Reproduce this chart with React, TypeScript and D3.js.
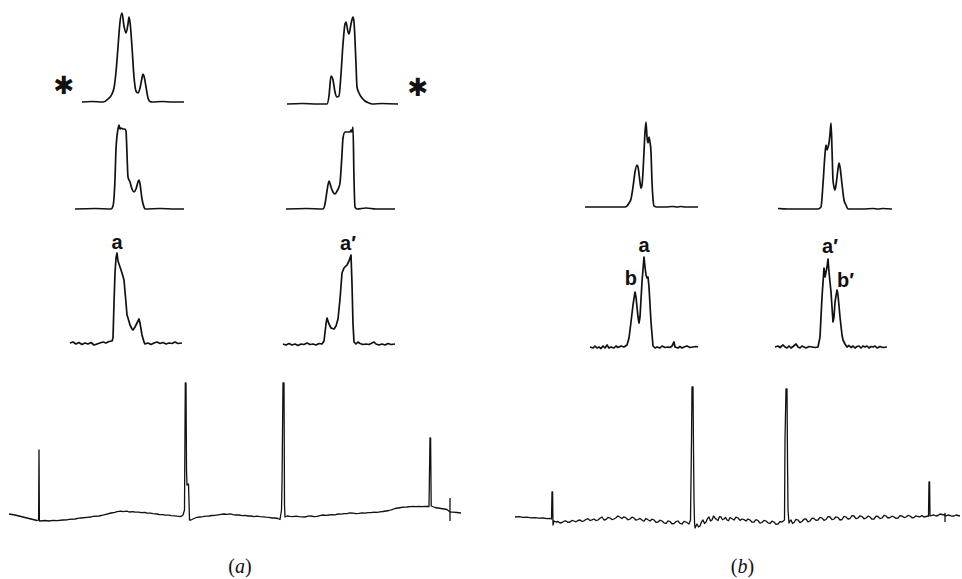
import React, { useEffect, useRef } from "react";
import * as d3 from "d3";

type Pt = [number, number];

// small spectra: [frequency offset, intensity]
// (a) top row, the two asterisked traces
const specA1: Pt[] = [
  [0, 0], [10, 0.5], [21, 0], [26, 3], [30, 8], [32, 14], [34, 30], [36, 55], [38, 80],
  [40, 89], [42, 76], [44, 69], [46, 78], [47, 85], [48, 80], [50, 55], [52, 25], [54, 11],
  [56, 9], [58, 14], [60, 24], [61, 28], [62, 26], [64, 15], [66, 4], [68, 0.5], [70, 0],
  [80, 0.5], [90, 0], [102, 0],
];
const specA1r: Pt[] = [
  [0, 0], [15, 0.5], [30, 0], [40, 0], [42, 8], [44, 28], [46, 24], [48, 12], [50, 7],
  [52, 8], [54, 30], [56, 60], [58, 80], [59, 82], [61, 72], [62, 70], [64, 80], [66, 87],
  [67, 82], [69, 40], [70, 17], [72, 11], [75, 6], [78, 3], [82, 1], [85, 0], [95, 0.5], [111, 0],
];
// (a) middle row
const specA2: Pt[] = [
  [0, 0], [20, 0.5], [36, 0], [38, 3], [40, 30], [41, 60], [43, 80], [44, 84], [45, 80],
  [46, 81], [48, 80], [50, 80], [51, 78], [52, 55], [53, 32], [55, 27], [57, 20], [59, 17],
  [61, 20], [63, 27], [64, 29], [65, 25], [67, 10], [69, 2], [70, 0], [85, 0.5], [100, 0], [109, 0],
];
const specA2r: Pt[] = [
  [0, 0], [20, 0.5], [37, 0], [39, 5], [41, 18], [43, 28], [45, 22], [47, 17], [49, 15],
  [51, 18], [53, 22], [54, 26], [56, 55], [57, 71], [59, 77], [62, 77], [64, 77], [65, 79],
  [66, 77], [67, 82], [68, 30], [69, 2], [71, 0], [80, 1], [90, 0], [109, 0],
];
// (a) lower row
const specA3: Pt[] = [
  [0, 0], [3, 1], [6, -1], [9, 0.5], [12, -1.5], [15, 0], [18, -1], [21, 0.5], [24, -2],
  [27, -1], [30, 0], [33, 1], [36, 0], [39, 1.5], [42, 2], [43, 5], [44, 40], [45, 70],
  [46, 85], [47, 90], [48, 82], [50, 76], [52, 70], [54, 63], [56, 40], [57, 28], [58, 25],
  [60, 18], [62, 14], [63, 13], [65, 16], [67, 20], [69, 24], [70, 20], [72, 8], [74, 1],
  [75, -1], [78, 0], [81, -1.5], [84, 0], [87, 1], [90, -0.5], [93, 0.5], [96, -1], [99, 0],
  [102, -0.5], [105, 1], [108, -0.5], [112, 0],
];
const specA3r: Pt[] = [
  [0, 0], [3, -1], [6, 0.5], [9, -1], [12, 0], [15, -1.5], [18, 0], [21, -0.5], [24, 1],
  [27, -0.5], [30, 0], [33, -1], [36, 0.5], [39, 0], [41, 3], [43, 20], [44, 26], [46, 20],
  [48, 16], [51, 15], [53, 18], [55, 25], [57, 45], [59, 71], [61, 76], [64, 79], [66, 83],
  [68, 89], [69, 60], [70, 20], [71, 2], [73, 0], [75, 2], [77, 0.5], [80, -0.5], [83, 0],
  [86, -0.5], [89, 1], [91, 2], [93, 0], [96, -1], [99, 0], [102, -1], [105, 0.5], [108, -0.5], [112, 0],
];
// (b) middle row
const specB2: Pt[] = [
  [0, 0], [20, 0], [40, 0], [42, 1], [44, 4], [46, 8], [48, 20], [50, 35], [52, 42], [53, 40],
  [55, 25], [56, 19], [57, 22], [59, 55], [60, 75], [61, 85], [62, 70], [63, 64], [64, 70],
  [65, 65], [66, 55], [67, 25], [68, 8], [69, 1], [72, 0], [80, 0], [88, 0.5], [92, 0],
  [96, 0.5], [100, 0], [113, 0],
];
const specB2r: Pt[] = [
  [0, 0.5], [10, 0], [20, 0], [40, 0], [43, 2], [45, 25], [47, 55], [48, 64], [49, 59],
  [50, 62], [51, 66], [52, 75], [53, 86], [54, 60], [55, 29], [56, 22], [57, 19], [58, 24],
  [60, 40], [61, 46], [62, 42], [64, 25], [66, 9], [68, 4], [70, 0], [85, 0], [95, 0.5],
  [100, 0], [105, 0.5], [114, 0],
];
// (b) lower row
const specB3: Pt[] = [
  [0, 0], [3, -1], [5, 1], [7, -1], [9, 0], [11, -1.5], [13, 1], [15, -1], [17, 2], [19, -1],
  [21, 0], [24, -1], [26, 1], [28, -0.5], [31, 1], [34, 0], [37, 2], [39, 9], [41, 25],
  [43, 42], [45, 55], [46, 50], [48, 30], [49, 24], [50, 30], [52, 65], [54, 90], [55, 80],
  [56, 72], [57, 69], [58, 70], [59, 60], [61, 25], [63, 1], [65, -1], [67, 0], [70, -1],
  [72, 1], [75, -0.5], [78, 0], [80, -0.5], [82, 1], [84, 5], [85, 0], [88, -1], [90, 0.5],
  [92, -1], [94, 0], [97, 1], [100, -0.5], [103, 0], [106, 0.5], [108, 0],
];
const specB3r: Pt[] = [
  [0, 0], [3, 1], [5, -0.5], [8, 2], [10, 0], [12, -1], [14, 1], [16, -1], [18, 0.5], [21, 3],
  [23, 0], [25, -1], [27, 1], [29, 0], [31, -1], [34, 0.5], [37, 0], [40, -0.5], [43, 0],
  [45, 10], [47, 50], [49, 79], [50, 70], [51, 75], [52, 80], [53, 88], [54, 75], [56, 55],
  [57, 40], [58, 25], [59, 30], [60, 45], [62, 57], [63, 52], [65, 30], [67, 12], [68, 7],
  [70, 3], [72, 0], [74, 1.5], [76, -0.5], [78, 1], [80, -1], [82, 0.5], [84, 1], [86, -1],
  [88, 1], [90, 0], [92, 1], [94, -1], [96, 0.5], [98, 0], [100, 1], [102, -1], [105, 0.5],
  [108, -0.5], [112, 0],
];

// full spectra at the bottom
const fullA: Pt[] = [
  [0, 7], [6, 6], [12, 4.5], [18, 3], [24, 1.5], [28, 0.5], [29.6, 1], [30, 71], [30.4, 0],
  [36, 0.5], [40, 0], [44, 0.6], [48, 0.3], [54, 1], [58, 1.2], [60, 1.7], [66, 2], [70, 2.8],
  [72, 3], [78, 3.6], [82, 4], [84, 4.6], [90, 5], [94, 5.8], [96, 6.4], [102, 8], [106, 8.6],
  [108, 9.4], [112, 9.8], [114, 9.4], [118, 9.8], [120, 9], [124, 9.4], [126, 8.8], [130, 8.8],
  [132, 8.4], [136, 8.6], [138, 7.8], [142, 7.9], [144, 7.4], [148, 7], [150, 6.5], [154, 6.4],
  [156, 5.8], [160, 5.8], [162, 5.4], [166, 5.2], [168, 4.8], [172, 4.5], [174, 6], [175.5, 11],
  [176.3, 138], [177, 138], [177.5, 51], [178, 36], [179.5, 37], [180.5, 1], [182, 1], [186, 3],
  [188, 3.6], [191, 4], [194, 4.3], [197, 4.8], [200, 5], [203, 5.5], [206, 5.6], [209, 6.2],
  [212, 6.6], [215, 7], [218, 6.6], [221, 7.1], [224, 6.4], [227, 6], [230, 6], [233, 5.4],
  [236, 5.6], [239, 5], [242, 5], [245, 4.4], [248, 4.8], [251, 4.4], [254, 4.2], [257, 3.8],
  [260, 3.6], [263, 3], [266, 3], [269, 2.5], [271, 1.5], [272.5, 11], [273, 36], [274, 138],
  [275, 138], [275.5, 16], [276, 4], [278, 5], [281, 4.6], [284, 4.4], [287, 4.8], [290, 4.4],
  [293, 4.2], [296, 4], [299, 4.8], [302, 5], [305, 4.4], [308, 4.6], [311, 5.4], [314, 6],
  [317, 5.6], [320, 6], [323, 6.4], [326, 6.2], [329, 7], [332, 6.8], [335, 7.4], [338, 7.4],
  [341, 8.2], [344, 7.8], [347, 7.4], [350, 7.6], [353, 8.2], [356, 7.8], [359, 8.4], [362, 8.4],
  [365, 8.8], [368, 8.6], [371, 9.2], [374, 9.5], [377, 10], [380, 10.5], [383, 11.4], [386, 12.5],
  [389, 13], [392, 13.5], [395, 13.8], [398, 14], [401, 14.4], [404, 14.5], [407, 14.4], [410, 14.6],
  [413, 14.4], [416, 14.5], [420, 14.5], [421, 83], [421.6, 83], [422.2, 15], [426, 13.5],
  [429, 13], [432, 12.5], [435, 12], [438, 11.5], [441, 9], [444, 8.8], [448, 8.5], [452, 8],
];
const fullB: Pt[] = [
  [0, 8], [4, 8.4], [8, 7.6], [12, 7.8], [16, 7.2], [20, 7.4], [24, 6.8], [28, 7], [32, 6.4],
  [35, 6.5], [36.5, 6], [37, 33], [37.6, 33], [38, 0], [39, 4], [41, 3], [43, 3.5], [45, 2],
  [47, 2.5], [49, 3.8], [51, 4], [53, 2.6], [55, 3], [57, 4.6], [59, 4], [61, 3.2], [63, 4.5],
  [65, 5], [67, 3.5], [69, 4.2], [71, 5.5], [73, 6.4], [75, 4.5], [77, 5.2], [79, 6], [81, 4.4],
  [83, 5], [85, 6.8], [87, 8], [89, 5], [91, 5.5], [93, 7.6], [95, 7], [97, 5.4], [99, 6],
  [101, 7.2], [103, 9], [105, 7.8], [107, 6.5], [109, 8.2], [111, 7], [113, 5.2], [115, 6],
  [117, 7.8], [119, 7], [121, 4.8], [123, 5.5], [125, 6.6], [127, 5], [129, 3.8], [131, 6.5],
  [133, 5.2], [135, 4], [137, 5.8], [139, 5], [141, 2.6], [143, 3], [145, 4.8], [147, 4],
  [149, 2.2], [151, 1.5], [153, 4.2], [155, 3.5], [157, 1.2], [159, 1.5], [161, 3.4], [163, 4],
  [165, 1.6], [167, 1], [169, 3.6], [171, 3], [174, 1], [175.5, 5], [176.5, 85], [177, 138],
  [178, 138], [178.5, 75], [179, 25], [179.5, 3], [180, -3], [182, 1], [183.5, -2], [185, -1],
  [186.5, 3], [188, 5], [189.5, 1.5], [191, 3], [192.5, 6.5], [194, 8], [195.5, 4], [197, 5],
  [198.5, 9], [200, 7], [201.5, 5.5], [203, 4.5], [204.5, 8.4], [206, 8], [207.5, 5.2],
  [209, 6], [210.5, 7.6], [212, 5], [213.5, 4.2], [215, 7.5], [217, 6.2], [219, 5], [221, 7.8],
  [223, 7], [225, 4.6], [227, 6], [229, 5.4], [231, 4], [233, 6], [235, 5], [237, 2.8], [239, 3],
  [241, 5.4], [243, 4.5], [245, 1.8], [247, 2.5], [249, 4.6], [251, 4], [253, 2.2], [255, 1.5],
  [257, 3.8], [259, 3], [261, 0.6], [263, 1], [265, 3.4], [267, 3], [269.5, 5], [270, 85],
  [271, 136], [272, 136], [272.5, 65], [273, 15], [274, 2], [275, 4], [276, 5], [277.5, 1.5],
  [279, 2.5], [281, 5.6], [283, 5], [285, 2.4], [287, 3.5], [289, 5.8], [291, 6], [293, 3.2],
  [295, 4], [297, 6.8], [299, 6.5], [301, 4.6], [303, 5], [305, 7.6], [307, 7], [309, 4.6],
  [311, 5.5], [313, 8.4], [315, 8], [317, 5.4], [319, 6], [321, 8.2], [323, 7.5], [325, 5],
  [327, 5.5], [329, 8.6], [331, 8], [333, 6], [335, 6.5], [337, 9.4], [339, 9], [341, 6.4],
  [343, 7], [345, 9.2], [347, 8.5], [349, 6.2], [351, 7], [353, 8.8], [355, 8], [357, 5.8],
  [359, 6], [361, 8.8], [363, 8.5], [365, 6.4], [367, 7], [369, 9.6], [371, 9], [373, 7],
  [375, 7.5], [377, 8.8], [379, 8], [381, 6.6], [383, 7], [385, 9.4], [387, 9], [389, 7.4],
  [391, 8], [393, 9.6], [395, 9], [397, 7.2], [399, 7.5], [401, 9.2], [403, 8.5], [405, 8.2],
  [407, 9.5], [409, 8], [411, 8.5], [413.5, 9], [414, 43], [414.6, 43], [415, 9], [417, 9.6],
  [419, 10], [421, 9], [423, 9.5], [425, 11], [427, 10.5], [430, 10], [431, 9], [433, 10],
  [435, 9.5], [437, 8.8], [439, 9], [441, 10], [443, 9.5], [445, 9],
];
// reference marks on the full spectra: [position, top, bottom]
const markA: [number, number, number][] = [[441, 23, 0]];
const markB: [number, number, number][] = [[430, 12, 3]];

const peakLabels = [
  { panel: 4, text: "a", x: 47 },
  { panel: 5, text: "a\u2032", x: 68 },
  { panel: 10, text: "a", x: 54 },
  { panel: 10, text: "b", x: 45 },
  { panel: 11, text: "a\u2032", x: 53 },
  { panel: 11, text: "b\u2032", x: 62 },
];
const captions = ["a", "b"];

// layout of each trace on the page
const layout = [
  { data: specA1, x0: 82, base: 102, w: 102, smooth: true },
  { data: specA1r, x0: 287, base: 104, w: 111, smooth: true },
  { data: specA2, x0: 75, base: 209, w: 109, smooth: true },
  { data: specA2r, x0: 286, base: 209, w: 109, smooth: true },
  { data: specA3, x0: 70, base: 343, w: 112, smooth: false },
  { data: specA3r, x0: 283, base: 344, w: 112, smooth: false },
  { data: specB2, x0: 585, base: 207, w: 113, smooth: true },
  { data: specB2r, x0: 778, base: 209, w: 114, smooth: true },
  { data: fullA, x0: 9, base: 521, w: 452, smooth: false },
  { data: fullB, x0: 515, base: 525, w: 445, smooth: false },
  { data: specB3, x0: 590, base: 347, w: 108, smooth: false },
  { data: specB3r, x0: 775, base: 347, w: 112, smooth: false },
];
const labelStyle: Record<string, { dx: number; dy: number; anchor: string }> = {
  "4a": { dx: 0, dy: -4, anchor: "middle" },
  "5a\u2032": { dx: -3, dy: -5, anchor: "middle" },
  "10a": { dx: 0, dy: -5, anchor: "middle" },
  "10b": { dx: 2, dy: -7, anchor: "end" },
  "11a\u2032": { dx: 2, dy: -6, anchor: "middle" },
  "11b\u2032": { dx: 0, dy: -3, anchor: "start" },
};

const App = () => {
  const svgRef = useRef<SVGSVGElement>(null);

  useEffect(() => {
    const svg = d3.select(svgRef.current);
    svg.selectAll("*").remove();

    const scales = layout.map((p) => ({
      x: d3.scaleLinear([0, p.w], [p.x0, p.x0 + p.w]),
      y: d3.scaleLinear([0, 100], [p.base, p.base - 100]),
    }));

    layout.forEach((p, i) => {
      const { x, y } = scales[i];
      const line = d3
        .line<Pt>()
        .curve(p.smooth ? d3.curveMonotoneX : d3.curveLinear)
        .x((d) => x(d[0]))
        .y((d) => y(d[1]));
      svg
        .append("path")
        .attr("d", line(p.data))
        .attr("fill", "none")
        .attr("stroke", "#111")
        .attr("stroke-width", p.w > 200 ? 1.3 : 1.7)
        .attr("stroke-linejoin", "round");
    });

    // reference marks
    const marks: [number, [number, number, number][]][] = [
      [8, markA],
      [9, markB],
    ];
    marks.forEach(([i, list]) => {
      const { x, y } = scales[i];
      list.forEach(([m, top, bot]) => {
        svg
          .append("line")
          .attr("x1", x(m))
          .attr("x2", x(m))
          .attr("y1", y(top))
          .attr("y2", y(bot))
          .attr("stroke", "#111")
          .attr("stroke-width", 1.3);
      });
    });

    // peak labels
    peakLabels.forEach((l) => {
      const { x, y } = scales[l.panel];
      const pk = layout[l.panel].data.find((d) => d[0] === l.x);
      const st = labelStyle[l.panel + l.text];
      svg
        .append("text")
        .attr("x", x(l.x) + st.dx)
        .attr("y", y(pk ? pk[1] : 0) + st.dy)
        .attr("text-anchor", st.anchor)
        .attr("font-family", "Liberation Sans, Arial, sans-serif")
        .attr("font-weight", "bold")
        .attr("font-size", 20)
        .attr("fill", "#111")
        .text(l.text);
    });

    // asterisks beside the top traces
    [
      [0, -18],
      [1, 131],
    ].forEach(([i, dx]) => {
      const { x, y } = scales[i];
      svg
        .append("text")
        .attr("x", x(dx))
        .attr("y", y(17))
        .attr("text-anchor", "middle")
        .attr("dominant-baseline", "central")
        .attr("font-family", "DejaVu Sans, sans-serif")
        .attr("font-size", 25)
        .attr("fill", "#111")
        .text("\u2731");
    });

    // panel captions
    [8, 9].forEach((i, k) => {
      const p = layout[i];
      const t = svg
        .append("text")
        .attr("x", p.x0 + p.w / 2 + 5)
        .attr("y", 573)
        .attr("text-anchor", "middle")
        .attr("font-family", "Liberation Serif, Times New Roman, serif")
        .attr("font-size", 20)
        .attr("fill", "#111");
      t.append("tspan").text("(");
      t.append("tspan").attr("font-style", "italic").text(captions[k]);
      t.append("tspan").text(")");
    });
  }, []);

  return (
    <svg
      ref={svgRef}
      width={962}
      height={579}
      style={{ position: "absolute", left: 0, top: 0, background: "#fff" }}
    />
  );
};

export default App;
